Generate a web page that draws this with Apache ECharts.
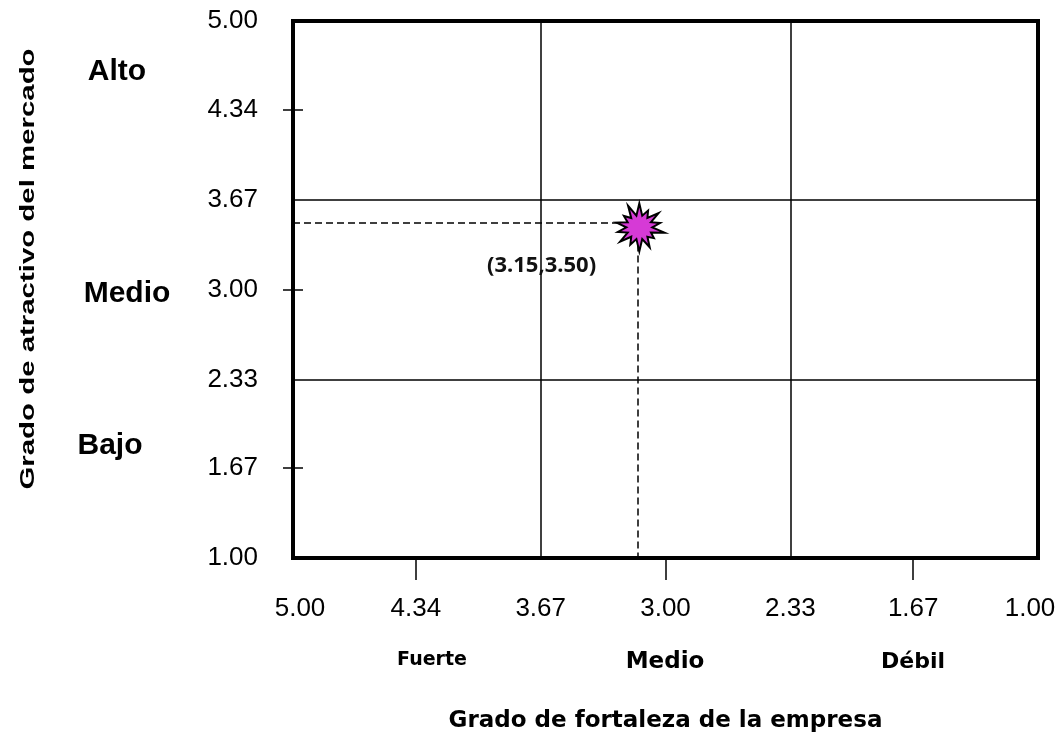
<!DOCTYPE html>
<html lang="es">
<head>
    <meta charset="UTF-8">
    <title>Matriz atractivo / fortaleza</title>
    <style>
        html, body { margin: 0; padding: 0; background: #fff; }
        #chart { width: 1060px; height: 733px; }
    </style>
</head>
<body>
<div id="chart"></div>
<script src="https://cdn.jsdelivr.net/npm/echarts@6/dist/echarts.min.js"></script>
<script>
    // valores de la matriz
    var tickValues = [5.00, 4.34, 3.67, 3.00, 2.33, 1.67, 1.00]; // etiquetas de ambos ejes
    var tickMarks = [4.34, 3.00, 1.67];   // marcas cortas
    var dividers = [3.67, 2.33];          // lineas que dividen la matriz
    var point = [3.15, 3.50];             // posicion de la empresa
    var xZones = ['Fuerte', 'Medio', 'Débil'];
    var yZones = ['Alto', 'Medio', 'Bajo'];

    // estrella (explosion) para el punto
    function burstPath(n) {
        var outer = [1, 0.78, 0.95, 0.82, 1, 0.72, 0.92, 1, 0.8, 0.95, 0.85, 0.9, 0.76, 1];
        var d = '';
        for (var i = 0; i < n * 2; i++) {
            var a = Math.PI * i / n - Math.PI / 2;
            var r = i % 2 === 0 ? 50 * outer[(i / 2) % outer.length] : 25;
            d += (i ? 'L' : 'M') + (50 + r * Math.cos(a)).toFixed(1) + ' ' + (50 + r * Math.sin(a)).toFixed(1);
        }
        return 'path://' + d + 'Z';
    }

    var numFont = 'Liberation Sans';
    var lblFont = 'DejaVu Sans';
    var fmt = function (v) { return Number(v).toFixed(2); };
    // las etiquetas de los extremos del eje x van un poco hacia dentro
    var fmtX = function (v) {
        if (v === tickValues[0]) return '{first|' + fmt(v) + '}';
        if (v === tickValues[tickValues.length - 1]) return '{last|' + fmt(v) + '}';
        return fmt(v);
    };

    var chart = echarts.init(document.getElementById('chart'));

    var option = {
        animation: false,
        backgroundColor: '#fff',
        grid: {
            left: 293, top: 21, right: 22, bottom: 175,
            outerBoundsMode: 'none',
            show: true, borderColor: '#000', borderWidth: 4, backgroundColor: '#fff'
        },
        xAxis: {
            type: 'value', min: 1, max: 5, inverse: true,
            name: 'Grado de fortaleza de la empresa',
            nameLocation: 'middle', nameGap: 152,
            nameTextStyle: { fontFamily: lblFont, fontWeight: 'bold', fontSize: 23, color: '#000' },
            axisLine: { show: false },
            splitLine: { show: false },
            axisTick: { show: true, inside: false, length: 22, customValues: tickMarks, lineStyle: { color: '#000', width: 1.5 } },
            axisLabel: {
                customValues: tickValues, formatter: fmtX, margin: 38,
                fontFamily: numFont, fontSize: 26, color: '#000',
                rich: {
                    first: { fontFamily: numFont, fontSize: 26, color: '#000', padding: [0, 0, 0, 14] },
                    last: { fontFamily: numFont, fontSize: 26, color: '#000', padding: [0, 16, 0, 0] }
                }
            }
        },
        yAxis: [{
            type: 'value', min: 1, max: 5,
            axisLine: { show: false },
            splitLine: { show: false },
            axisTick: { show: true, inside: false, length: 10, customValues: tickMarks, lineStyle: { color: '#000', width: 1.5 } },
            axisLabel: { customValues: tickValues, formatter: fmt, margin: 35, fontFamily: numFont, fontSize: 26, color: '#000' }
        }, {
            // segunda capa solo para que las marcas crucen el eje
            type: 'value', min: 1, max: 5, position: 'left',
            axisLine: { show: false },
            splitLine: { show: false },
            axisLabel: { show: false },
            axisTick: { show: true, inside: true, length: 10, customValues: tickMarks, lineStyle: { color: '#000', width: 1.5 } }
        }],
        graphic: [
            {
                type: 'text', x: 28, y: 269, rotation: Math.PI / 2, scaleX: 1.47,
                style: { text: 'Grado de atractivo del mercado', font: 'bold 20px "Liberation Sans"', fill: '#000', align: 'center', verticalAlign: 'middle' }
            },
            { type: 'text', x: 117, y: 72, style: { text: yZones[0], font: 'bold 30px "Liberation Sans"', fill: '#000', align: 'center', verticalAlign: 'middle' } },
            { type: 'text', x: 127, y: 294, style: { text: yZones[1], font: 'bold 30px "Liberation Sans"', fill: '#000', align: 'center', verticalAlign: 'middle' } },
            { type: 'text', x: 110, y: 446, style: { text: yZones[2], font: 'bold 30px "Liberation Sans"', fill: '#000', align: 'center', verticalAlign: 'middle' } },
            { type: 'text', x: 432, y: 660, style: { text: xZones[0], font: 'bold 19px "DejaVu Sans"', fill: '#000', align: 'center', verticalAlign: 'middle' } },
            { type: 'text', x: 665, y: 662, style: { text: xZones[1], font: 'bold 23px "DejaVu Sans"', fill: '#000', align: 'center', verticalAlign: 'middle' } },
            { type: 'text', x: 913, y: 662, style: { text: xZones[2], font: 'bold 22px "DejaVu Sans"', fill: '#000', align: 'center', verticalAlign: 'middle' } }
        ],
        series: [{
            type: 'scatter',
            data: [point],
            symbol: burstPath(14),
            symbolSize: 48,
            symbolOffset: [3, 5],
            z: 5,
            itemStyle: { color: '#d63ad6', borderColor: '#000', borderWidth: 2, opacity: 1 },
            label: {
                show: true,
                position: 'bottom',
                distance: 2,
                offset: [-99, 0],
                formatter: function (p) { return '(' + fmt(p.value[0]) + ',' + fmt(p.value[1]) + ')'; },
                fontFamily: 'Noto Sans', fontWeight: 'bold', fontSize: 22, color: '#111'
            },
            markLine: {
                silent: true,
                symbol: 'none',
                label: { show: false },
                lineStyle: { color: '#000', width: 1.5, type: 'solid' },
                data: [
                    { xAxis: dividers[0] },
                    { xAxis: dividers[1] },
                    { yAxis: dividers[0] },
                    { yAxis: dividers[1] },
                    [{ coord: [5, point[1]], lineStyle: { type: [7, 4], width: 1.5, color: '#000' } }, { coord: point }],
                    [{ coord: point, lineStyle: { type: [7, 4], width: 1.5, color: '#000' } }, { coord: [point[0], 1] }]
                ]
            }
        }]
    };

    chart.setOption(option);
</script>
</body>
</html>
